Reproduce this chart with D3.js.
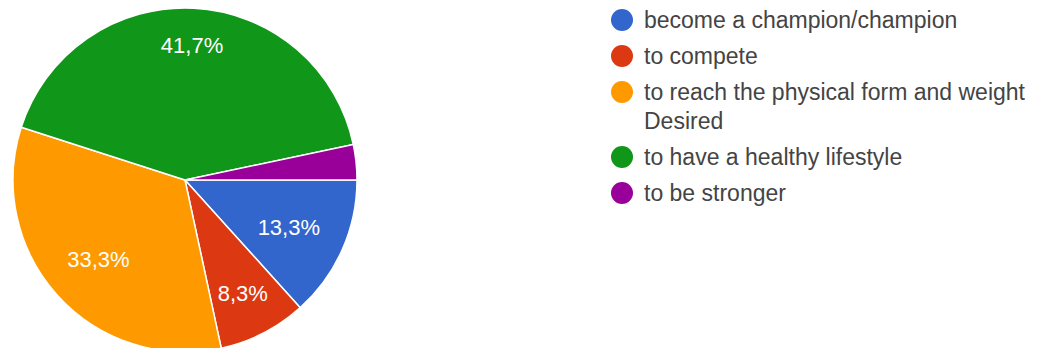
<!DOCTYPE html>
<html>
<head>
<meta charset="utf-8">
<script src="https://cdn.jsdelivr.net/npm/d3@7"></script>
<style>
  html, body { margin: 0; padding: 0; background: #fff; }
  svg { display: block; font-family: "Liberation Sans", Arial, sans-serif; }
</style>
</head>
<body>
<svg id="chart" width="1040" height="348"></svg>
<script>
// Motivation categories and their share of respondents (%)
const categories = [
  "become a champion/champion",
  "to compete",
  "to reach the physical form and weight Desired",
  "to have a healthy lifestyle",
  "to be stronger"
];
const shares = [13.3, 8.3, 33.3, 41.7, 3.3];
const sliceLabels = ["13,3%", "8,3%", "33,3%", "41,7%", ""];
const colors = ["#3366cc", "#dc3912", "#ff9900", "#109618", "#990099"];

const svg = d3.select("#chart");
const cx = 185, cy = 180, radius = 172;

const data = categories.map((c, i) => ({ name: c, value: shares[i], label: sliceLabels[i], color: colors[i] }));

// Slices run clockwise starting at 3 o'clock
const pie = d3.pie()
  .value(d => d.value)
  .sort(null)
  .startAngle(Math.PI / 2)
  .endAngle(Math.PI / 2 + 2 * Math.PI);

const arc = d3.arc().innerRadius(0).outerRadius(radius);
const arcs = pie(data);

const g = svg.append("g").attr("transform", `translate(${cx},${cy})`);

g.selectAll("path.slice")
  .data(arcs)
  .join("path")
  .attr("class", "slice")
  .attr("d", arc)
  .attr("fill", d => d.data.color)
  .attr("stroke", "#ffffff")
  .attr("stroke-width", 1.5)
  .attr("stroke-linejoin", "round");

// Percentage labels: pushed outward along the slice bisector until the
// text box reaches a fixed inner ring
const labelFont = 22;
const ringLimit = radius * 0.845;
const labels = g.selectAll("text.pct")
  .data(arcs.filter(d => d.data.label))
  .join("text")
  .attr("class", "pct")
  .attr("fill", "#ffffff")
  .attr("font-size", labelFont)
  .attr("text-anchor", "middle")
  .attr("dominant-baseline", "central")
  .text(d => d.data.label);

labels.each(function (d) {
  const w = this.getComputedTextLength();
  const h = labelFont * 0.72;
  const a = (d.startAngle + d.endAngle) / 2;
  const sx = Math.sin(a), sy = -Math.cos(a);
  const dist = ringLimit - (w / 2 * Math.abs(sx) + h / 2 * Math.abs(sy));
  d3.select(this).attr("x", dist * sx).attr("y", dist * sy + 1);
});

// Legend
const legendX = 622, legendTop = 20, rowStep = 36, lineStep = 29, maxTextWidth = 395;
const legendFont = 23;
const textX = legendX + 22;
const legend = svg.append("g");
let y = legendTop;
data.forEach(d => {
  legend.append("circle")
    .attr("cx", legendX).attr("cy", y).attr("r", 11)
    .attr("fill", d.color);
  const t = legend.append("text")
    .attr("x", textX).attr("y", y + 7.5)
    .attr("font-size", legendFont)
    .attr("fill", "#444444");
  // word-wrap long entries
  const words = d.name.split(" ");
  let line = [], lineNo = 0;
  let tspan = t.append("tspan").attr("x", textX).attr("dy", 0);
  words.forEach(wd => {
    line.push(wd);
    tspan.text(line.join(" "));
    if (tspan.node().getComputedTextLength() > maxTextWidth && line.length > 1) {
      line.pop();
      tspan.text(line.join(" "));
      line = [wd];
      lineNo++;
      tspan = t.append("tspan").attr("x", textX).attr("dy", lineStep).text(wd);
    }
  });
  y += rowStep + lineNo * lineStep;
});
</script>
</body>
</html>
